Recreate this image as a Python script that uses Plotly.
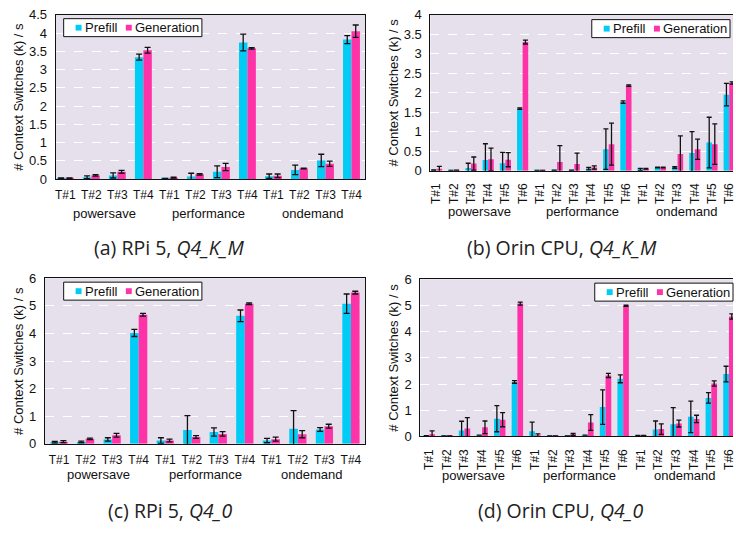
import plotly.graph_objects as go

W, H = 736, 541

governors = ["powersave", "performance", "ondemand"]
rpi_threads = ["T#1", "T#2", "T#3", "T#4"]
orin_threads = ["T#1", "T#2", "T#3", "T#4", "T#5", "T#6"]

# (a) RPi 5, Q4_K_M
a_pre = [0.02, 0.05, 0.10, 3.34, 0.01, 0.07, 0.20, 3.74, 0.08, 0.25, 0.51, 3.82]
a_pre_err = [0.01, 0.04, 0.07, 0.08, 0.01, 0.09, 0.16, 0.23, 0.06, 0.13, 0.17, 0.11]
a_gen = [0.02, 0.10, 0.20, 3.53, 0.04, 0.13, 0.33, 3.58, 0.09, 0.29, 0.42, 4.05]
a_gen_err = [0.01, 0.02, 0.04, 0.08, 0.01, 0.02, 0.10, 0.02, 0.05, 0.01, 0.07, 0.17]

# (b) Orin CPU, Q4_K_M
b_pre = [0.01, 0.005, 0.07, 0.27, 0.19, 1.59, 0.005, 0.01, 0.01, 0.05, 0.55, 1.76,
         0.03, 0.08, 0.08, 0.45, 0.72, 1.95]
b_pre_err = [0.01, 0.0, 0.12, 0.42, 0.28, 0.02, 0.0, 0.0, 0.0, 0.03, 0.52, 0.03,
             0.03, 0.01, 0.02, 0.55, 0.65, 0.29]
b_gen = [0.04, 0.01, 0.18, 0.29, 0.28, 3.30, 0.005, 0.22, 0.17, 0.08, 0.68, 2.18,
         0.05, 0.08, 0.43, 0.55, 0.68, 2.25]
b_gen_err = [0.07, 0.0, 0.17, 0.29, 0.18, 0.05, 0.0, 0.42, 0.28, 0.04, 0.54, 0.02,
             0.01, 0.01, 0.46, 0.26, 0.52, 0.03]

# (c) RPi 5, Q4_0
c_pre = [0.06, 0.07, 0.16, 4.02, 0.12, 0.50, 0.43, 4.64, 0.12, 0.55, 0.52, 5.08]
c_pre_err = [0.03, 0.03, 0.06, 0.13, 0.10, 0.52, 0.15, 0.21, 0.08, 0.65, 0.07, 0.35]
c_gen = [0.08, 0.18, 0.31, 4.68, 0.12, 0.25, 0.36, 5.08, 0.17, 0.35, 0.64, 5.48]
c_gen_err = [0.04, 0.03, 0.07, 0.05, 0.05, 0.05, 0.08, 0.03, 0.07, 0.13, 0.07, 0.05]

# (d) Orin CPU, Q4_0
d_pre = [0.03, 0.02, 0.23, 0.05, 0.68, 2.08, 0.20, 0.02, 0.02, 0.05, 1.12, 2.20,
         0.04, 0.27, 0.47, 0.75, 1.47, 2.38]
d_pre_err = [0.0, 0.0, 0.35, 0.0, 0.50, 0.05, 0.35, 0.0, 0.0, 0.0, 0.66, 0.15,
             0.0, 0.32, 0.63, 0.60, 0.20, 0.30]
d_gen = [0.08, 0.02, 0.30, 0.35, 0.64, 5.07, 0.03, 0.02, 0.08, 0.53, 2.33, 4.99,
         0.04, 0.28, 0.49, 0.67, 2.02, 4.58]
d_gen_err = [0.13, 0.0, 0.42, 0.24, 0.27, 0.06, 0.07, 0.0, 0.04, 0.30, 0.08, 0.02,
             0.0, 0.20, 0.13, 0.14, 0.10, 0.10]

captions = ["(a) RPi 5, <i>Q4_K_M</i>", "(b) Orin CPU, <i>Q4_K_M</i>",
            "(c) RPi 5, <i>Q4_0</i>", "(d) Orin CPU, <i>Q4_0</i>"]

CYAN = "#00CCF5"
PINK = "#FF33A8"
BG = "#E6E0EC"
TXT = "#111"
FONT = "Liberation Sans, Arial, sans-serif"
CAPFONT = "Open Sans, Lato, sans-serif"


def px(x):
    return x / W


def py(y):
    return 1 - y / H


panels = [
    dict(pre=a_pre, pe=a_pre_err, gen=a_gen, ge=a_gen_err, thr=rpi_threads,
         dom=(55, 366, 8, 177), xr=[-0.37, 11.52], yr=[0, 4.5], dt=0.5,
         cap=(169, 247), gy=212, rot=False, tx=18, leg=(63, 12), cw=3),
    dict(pre=b_pre, pe=b_pre_err, gen=b_gen, ge=b_gen_err, thr=orin_threads,
         dom=(431.7, 736, 8, 168.3), xr=[-0.36, 17.22], yr=[0, 4], dt=0.5,
         cap=(564, 247), gy=210, rot=True, tx=395, leg=(594, 13), cw=2.5),
    dict(pre=c_pre, pe=c_pre_err, gen=c_gen, ge=c_gen_err, thr=rpi_threads,
         dom=(44, 366, 279, 449.3), xr=[-0.54, 11.53], yr=[0, 6], dt=1,
         cap=(170, 518), gy=481, rot=False, tx=17, leg=(63, 283), cw=3),
    dict(pre=d_pre, pe=d_pre_err, gen=d_gen, ge=d_gen_err, thr=orin_threads,
         dom=(421.7, 736, 280, 441.7), xr=[-0.5, 17.23], yr=[0, 6], dt=1,
         cap=(563, 518), gy=482, rot=True, tx=395, leg=(597, 284), cw=2.5),
]

fig = go.Figure()
layout = dict(
    width=W, height=H, autosize=False,
    margin=dict(l=0, r=0, t=0, b=0),
    paper_bgcolor="white", plot_bgcolor=BG,
    barmode="group", bargap=0.35, bargroupgap=0.0,
    showlegend=False,
    font=dict(family=FONT, size=12, color=TXT),
)
shapes = []
annotations = []

for i, p in enumerate(panels):
    k = "" if i == 0 else str(i + 1)
    xa, ya = "x" + k, "y" + k
    n_per = len(p["thr"])
    labels = p["thr"] * len(governors)
    xs = list(range(len(labels)))
    for name, vals, errs, col in [("Prefill", p["pre"], p["pe"], CYAN),
                                  ("Generation", p["gen"], p["ge"], PINK)]:
        fig.add_trace(go.Bar(
            x=xs, y=vals, name=name, xaxis=xa, yaxis=ya,
            marker=dict(color=col, line=dict(width=0)),
            error_y=dict(type="data", array=errs, color="#111",
                         thickness=1.3, width=p["cw"]),
            showlegend=False,
        ))
    x0, x1, yt, yb = p["dom"]
    layout["xaxis" + k] = dict(
        domain=[px(x0), min(px(x1), 1.0)], anchor=ya, range=p["xr"],
        tickmode="array", tickvals=xs, ticktext=labels,
        tickangle=-90 if p["rot"] else 0,
        ticks="outside", ticklen=7 if p["rot"] else 5, tickcolor="rgba(0,0,0,0)",
        tickfont=dict(family=FONT, size=12, color=TXT),
        ticklabeloverflow="allow",
        showgrid=False, zeroline=False,
        showline=True, linecolor="#111", linewidth=1, mirror=True,
        fixedrange=True,
    )
    layout["yaxis" + k] = dict(
        domain=[py(yb), py(yt)], anchor=xa, range=p["yr"], dtick=p["dt"],
        tick0=0, ticks="outside", ticklen=5, tickcolor="rgba(0,0,0,0)",
        tickfont=dict(family=FONT, size=13, color=TXT),
        showgrid=True, gridcolor="white", gridwidth=1, griddash="dash",
        zeroline=False, showline=True, linecolor="#111", linewidth=1,
        mirror=not p["rot"], fixedrange=True,
    )
    annotations.append(dict(
        text="# Context Switches (k) / s", textangle=-90,
        x=px(p["tx"]), y=py((yt + yb) / 2), xref="paper", yref="paper",
        xanchor="center", yanchor="middle", showarrow=False,
        font=dict(family=FONT, size=13, color=TXT),
    ))
    for g, gname in enumerate(governors):
        annotations.append(dict(
            text=gname, x=g * n_per + (n_per - 1) / 2, y=py(p["gy"]),
            xref=xa, yref="paper", xanchor="center", yanchor="middle",
            showarrow=False, font=dict(family=FONT, size=13, color=TXT),
        ))
    annotations.append(dict(
        text=captions[i], x=px(p["cap"][0]), y=py(p["cap"][1]),
        xref="paper", yref="paper", xanchor="center", yanchor="middle",
        showarrow=False, font=dict(family=CAPFONT, size=19.5, color="#222"),
    ))
    lx, ly = p["leg"]
    bw, bh = 139, 18.5
    shapes.append(dict(type="rect", xref="paper", yref="paper",
                       x0=px(lx), x1=px(lx + bw), y0=py(ly + bh), y1=py(ly),
                       fillcolor="white", line=dict(color="#111", width=1)))
    for off, col, name in [(12, CYAN, "Prefill"), (62.5, PINK, "Generation")]:
        shapes.append(dict(type="rect", xref="paper", yref="paper",
                           x0=px(lx + off), x1=px(lx + off + 6),
                           y0=py(ly + bh / 2 + 3), y1=py(ly + bh / 2 - 3),
                           fillcolor=col, line=dict(width=0)))
        annotations.append(dict(
            text=name, x=px(lx + off + 7), y=py(ly + bh / 2),
            xref="paper", yref="paper", xanchor="left", yanchor="middle",
            showarrow=False, font=dict(family=FONT, size=13, color=TXT),
        ))

layout["shapes"] = shapes
layout["annotations"] = annotations
fig.update_layout(**layout)
fig.write_html("out.html")
